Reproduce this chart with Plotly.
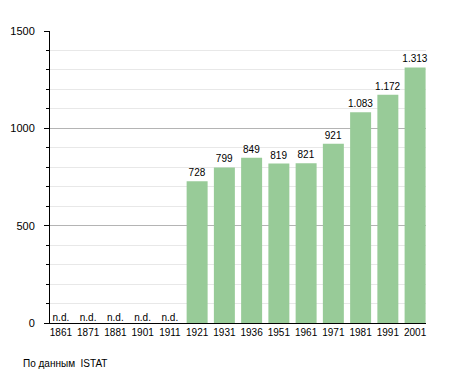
import plotly.graph_objects as go

years = ["1861", "1871", "1881", "1901", "1911", "1921", "1931", "1936",
         "1951", "1961", "1971", "1981", "1991", "2001"]
population = [None, None, None, None, None, 728, 799, 849, 819, 821, 921, 1083, 1172, 1313]
bar_labels = ["", "", "", "", "", "728", "799", "849", "819", "821", "921",
              "1.083", "1.172", "1.313"]
nd_years = ["1861", "1871", "1881", "1901", "1911"]
nd_values = [0, 0, 0, 0, 0]
nd_labels = ["n.d.", "n.d.", "n.d.", "n.d.", "n.d."]
y_ticks = [0, 500, 1000, 1500]
source_text = "По данным  ISTAT"

FONT = "Liberation Sans, Arial, Helvetica, sans-serif"

fig = go.Figure()
fig.add_trace(go.Bar(
    x=years, y=population, text=bar_labels, textposition="outside",
    constraintext="none",
    textfont=dict(size=10, color="#000000", family=FONT),
    marker=dict(color="#98CB98", line=dict(width=0)),
    cliponaxis=False, hoverinfo="x+y",
))
fig.add_trace(go.Scatter(
    x=nd_years, y=nd_values, mode="text", text=nd_labels,
    textposition="top center",
    textfont=dict(size=10, color="#000000", family=FONT),
    cliponaxis=False, hoverinfo="skip",
))

fig.update_layout(
    width=447, height=365,
    margin=dict(l=42, r=29, t=23, b=50),
    paper_bgcolor="white", plot_bgcolor="white",
    showlegend=False, bargap=0.23,
    font=dict(family=FONT, size=10, color="#000000"),
)
fig.update_xaxes(
    type="category", categoryorder="array", categoryarray=years,
    range=[-0.4, 13.4], automargin=False,
    showline=True, linecolor="#000000", linewidth=1,
    ticks="", showgrid=False, tickfont=dict(size=10),
)
fig.update_yaxes(
    range=[0, 1500], tickvals=y_ticks, automargin=False,
    showline=True, linecolor="#000000", linewidth=1,
    ticks="outside", ticklen=5, tickcolor="#000000", tickwidth=1,
    ticklabelstandoff=7,
    showgrid=True, gridcolor="#B4B4B4", gridwidth=1,
    zeroline=False, tickfont=dict(size=11),
    minor=dict(dtick=100, ticks="outside", ticklen=3, tickcolor="#000000",
               showgrid=True, gridcolor="#E8E8E8", gridwidth=1),
)
fig.add_annotation(
    text=source_text, xref="paper", yref="paper",
    x=-0.077, y=-0.137, xanchor="left", yanchor="middle",
    showarrow=False, font=dict(size=10, family=FONT, color="#000000"),
)
fig.write_html("out.html")
